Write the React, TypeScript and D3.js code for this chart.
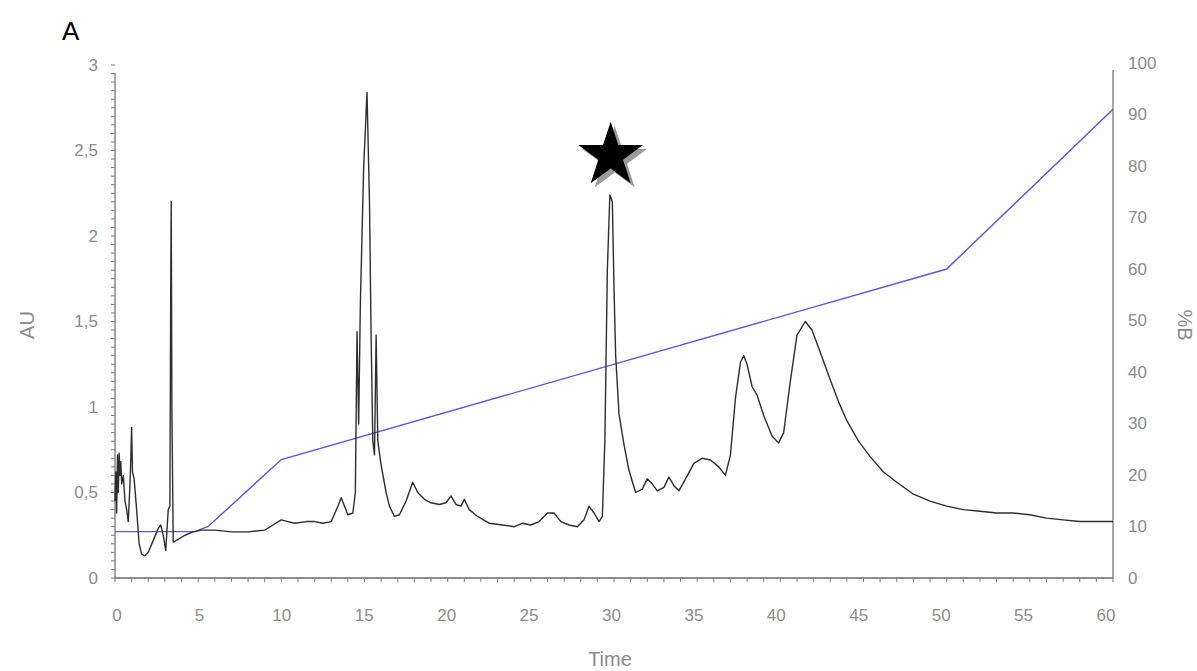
import * as d3 from "d3";

// chromatogram trace (min, AU)
const traceTime = [
  0, 0.05, 0.1, 0.15, 0.2, 0.25, 0.3, 0.35, 0.4, 0.5, 0.6, 0.7, 0.8, 0.9, 0.95, 1.0, 1.05, 1.15, 1.3, 1.45,
  1.6, 1.8, 2.0, 2.3, 2.6, 2.75, 2.9, 3.05, 3.2, 3.3, 3.35, 3.38, 3.42, 3.5, 3.7, 4.2, 4.7, 5.2, 6, 7,
  8, 9, 9.5, 10, 10.4, 10.8, 11.5, 12, 12.5, 13, 13.4, 13.6, 13.8, 14.0, 14.3, 14.45, 14.55, 14.65, 14.75, 14.95,
  15.15, 15.3, 15.4, 15.5, 15.6, 15.7, 15.8, 16.0, 16.3, 16.5, 16.8, 17.1, 17.5, 17.9, 18.2, 18.6, 19.0, 19.5, 19.9, 20.2,
  20.5, 20.8, 21.0, 21.3, 21.8, 22.5, 23.3, 24.0, 24.5, 25.0, 25.5, 26.0, 26.4, 26.8, 27.3, 27.8, 28.2, 28.5, 28.8, 29.1,
  29.3, 29.45, 29.6, 29.75, 29.9, 30.0, 30.1, 30.3, 30.6, 30.9, 31.3, 31.7, 32.0, 32.3, 32.6, 33.0, 33.3, 33.6, 33.9, 34.3,
  34.8, 35.3, 35.8, 36.3, 36.7, 37.0, 37.3, 37.6, 37.8, 38.0, 38.3, 38.6, 39.0, 39.5, 39.9, 40.2, 40.6, 41.0, 41.5, 41.9,
  42.4, 43.0, 43.5, 44.0, 44.7, 45.4, 46.2, 47.0, 48.0, 49.0, 50.0, 51.0, 52.0, 53.0, 54.0, 55.0, 56.0, 57.0, 58.0, 59.0,
  60.0,
];
const traceAU = [
  0.45, 0.62, 0.38, 0.72, 0.5, 0.73, 0.6, 0.68, 0.55, 0.6, 0.45, 0.4, 0.33, 0.55, 0.7, 0.88, 0.62, 0.58, 0.4, 0.2,
  0.14, 0.13, 0.15, 0.22, 0.29, 0.31, 0.25, 0.16, 0.4, 0.42, 1.7, 2.2, 1.0, 0.21, 0.22, 0.25, 0.27, 0.28, 0.28, 0.27,
  0.27, 0.28, 0.31, 0.34, 0.33, 0.32, 0.33, 0.33, 0.32, 0.33, 0.42, 0.47, 0.42, 0.37, 0.38, 0.5, 1.44, 0.9, 1.6, 2.4,
  2.84, 2.2, 1.4, 0.8, 0.72, 1.42, 0.8, 0.66, 0.5, 0.42, 0.36, 0.37, 0.45, 0.56, 0.5, 0.46, 0.44, 0.43, 0.44, 0.48,
  0.43, 0.42, 0.46, 0.4, 0.36, 0.32, 0.31, 0.3, 0.32, 0.31, 0.33, 0.38, 0.38, 0.33, 0.31, 0.3, 0.34, 0.42, 0.38, 0.33,
  0.36, 0.8, 1.8, 2.24, 2.2, 1.7, 1.3, 0.96, 0.78, 0.63, 0.5, 0.52, 0.58, 0.55, 0.51, 0.53, 0.59, 0.54, 0.51, 0.58,
  0.67, 0.7, 0.69, 0.65, 0.6, 0.72, 1.05, 1.26, 1.3, 1.25, 1.12, 1.07, 0.95, 0.83, 0.79, 0.85, 1.15, 1.42, 1.5, 1.45,
  1.32, 1.16, 1.03, 0.92, 0.8, 0.71, 0.62, 0.56, 0.49, 0.45, 0.42, 0.4, 0.39, 0.38, 0.38, 0.37, 0.35, 0.34, 0.33, 0.33,
  0.33,
];

// gradient (min, %B)
const gradTime = [0, 4.8, 5.6, 10, 50, 60];
const gradB = [9, 9, 10, 23, 60, 91];

const xTicks = [0, 5, 10, 15, 20, 25, 30, 35, 40, 45, 50, 55, 60];
const auTicks = [0, 0.5, 1, 1.5, 2, 2.5, 3];
const bTicks = [0, 10, 20, 30, 40, 50, 60, 70, 80, 90, 100];

const starAt = { t: 29.8, au: 2.47 };

const W = 1197;
const H = 671;
const left = 115;
const right = 1113;
const top = 65;
const bottom = 578;

const gray = "#8c8c8c";
const fontFam = "'Liberation Sans', Arial, sans-serif";

export default function App() {
  const x = d3.scaleLinear().domain([0, 60]).range([left, right]);
  const yAU = d3.scaleLinear().domain([0, 3]).range([bottom, top]);
  const yB = d3.scaleLinear().domain([0, 100]).range([bottom, top - 2]);

  const trace = traceTime.map((t, i) => [t, traceAU[i]] as [number, number]);
  const grad = gradTime.map((t, i) => [t, gradB[i]] as [number, number]);

  const traceLine = d3.line<[number, number]>().x((d) => x(d[0])).y((d) => yAU(d[1]));
  const gradLine = d3.line<[number, number]>().x((d) => x(d[0])).y((d) => yB(d[1]));

  const minorX = d3.range(0, 61, 1);
  const minorY = d3.range(0, 3.001, 0.05);
  const fmt = (v: number) => String(v).replace(".", ",");

  // 5-point star
  const cx = x(starAt.t);
  const cy = yAU(starAt.au);
  const R = 34;
  const r = R * 0.382;
  const starPts = d3.range(10).map((i) => {
    const a = -Math.PI / 2 + (i * Math.PI) / 5;
    const rr = i % 2 === 0 ? R : r;
    return [Math.cos(a) * rr, Math.sin(a) * rr];
  });
  const starPath = "M" + starPts.map((p) => p.join(",")).join("L") + "Z";

  return (
    <svg width={W} height={H} style={{ position: "absolute", left: 0, top: 0 }}>
      <rect width={W} height={H} fill="#fff" />
      <text x={62} y={40} fontSize={26} fontFamily={fontFam} fill="#000">
        A
      </text>

      {/* axes */}
      <line x1={left} x2={left} y1={73} y2={bottom} stroke="#777" strokeWidth={1.3} />
      <line x1={right} x2={right} y1={70} y2={bottom} stroke="#777" strokeWidth={1.3} />
      <line x1={left} x2={right} y1={bottom} y2={bottom} stroke="#666" strokeWidth={1.5} />
      {minorY.map((v, i) => (
        <line key={"my" + i} x1={left - 4} x2={left} y1={yAU(v)} y2={yAU(v)} stroke="#777" strokeWidth={1} />
      ))}
      {minorX.map((v) => (
        <line key={"mx" + v} x1={x(v)} x2={x(v)} y1={bottom} y2={bottom + 4} stroke="#777" strokeWidth={1} />
      ))}

      {auTicks.map((v) => (
        <text
          key={"au" + v}
          x={98}
          y={yAU(v)}
          dy="0.35em"
          textAnchor="end"
          fontSize={17}
          fontFamily={fontFam}
          fill={gray}
        >
          {fmt(v)}
        </text>
      ))}
      {bTicks.map((v) => (
        <text
          key={"b" + v}
          x={1128}
          y={yB(v)}
          dy="0.35em"
          textAnchor="start"
          fontSize={17}
          fontFamily={fontFam}
          fill={gray}
        >
          {v}
        </text>
      ))}
      {xTicks.map((v) => (
        <text
          key={"x" + v}
          x={x(v) + 2 - (v / 60) * 9}
          y={621}
          textAnchor="middle"
          fontSize={17}
          fontFamily={fontFam}
          fill={gray}
        >
          {v}
        </text>
      ))}

      <text x={610} y={666} textAnchor="middle" fontSize={20} fontFamily={fontFam} fill={gray}>
        Time
      </text>
      <text
        transform={`translate(34,325) rotate(-90)`}
        textAnchor="middle"
        fontSize={20}
        fontFamily={fontFam}
        fill={gray}
      >
        AU
      </text>
      <text
        transform={`translate(1178,325) rotate(90)`}
        textAnchor="middle"
        fontSize={20}
        fontFamily={fontFam}
        fill={gray}
      >
        %B
      </text>

      {/* gradient */}
      <path d={gradLine(grad) ?? ""} fill="none" stroke="#5858e0" strokeWidth={1.4} />
      {/* chromatogram */}
      <path d={traceLine(trace) ?? ""} fill="none" stroke="#2e2e2e" strokeWidth={1.4} strokeLinejoin="round" />

      {/* star marker */}
      <path d={starPath} transform={`translate(${cx + 4},${cy + 4})`} fill="#9a9a9a" />
      <path d={starPath} transform={`translate(${cx},${cy})`} fill="#000" />
    </svg>
  );
}
